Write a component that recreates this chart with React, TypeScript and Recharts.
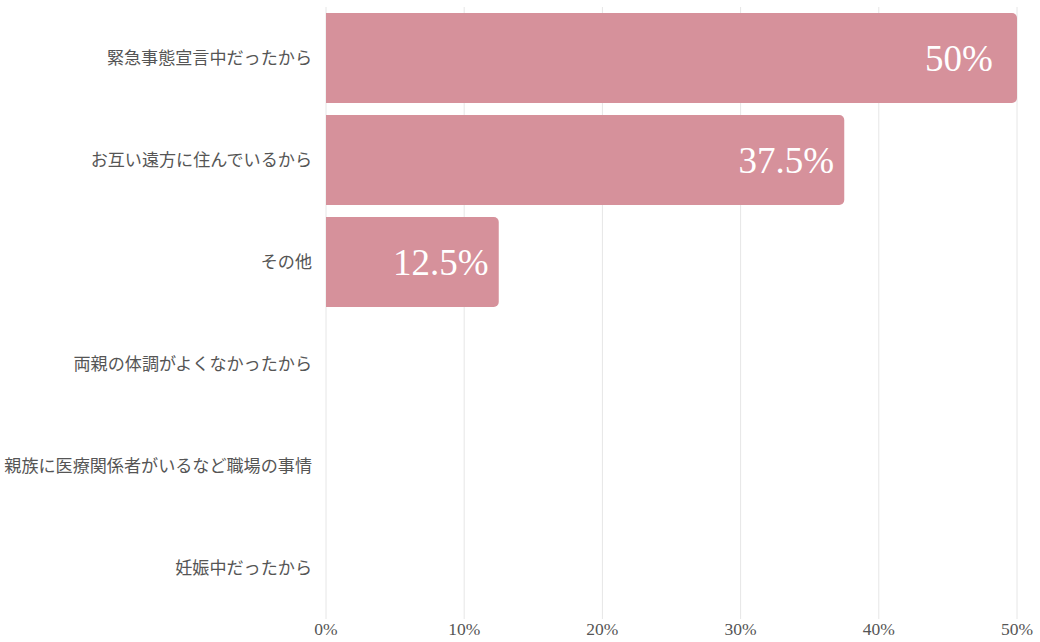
import React from 'react';
import { BarChart, Bar, CartesianGrid, XAxis, YAxis, LabelList } from 'recharts';

const categories = [
  '緊急事態宣言中だったから',
  'お互い遠方に住んでいるから',
  'その他',
  '両親の体調がよくなかったから',
  '親族に医療関係者がいるなど職場の事情',
  '妊娠中だったから'
];
const percentages = [50, 37.5, 12.5, 0, 0, 0];
const xTicks = [0, 10, 20, 30, 40, 50];

const data = categories.map((name, i) => ({ name, value: percentages[i] }));

// value label centred a fixed distance in from the bar's end
const renderValue = (props: any) => {
  const { x, y, width, height, value } = props;
  if (!value) return null;
  return (
    <text
      x={Number(x) + Number(width) - 58}
      y={Number(y) + Number(height) / 2}
      textAnchor="middle"
      dominantBaseline="central"
      fill="#fff"
      fontSize={37}
      fontFamily="Liberation Serif"
    >
      {`${value}%`}
    </text>
  );
};

const App: React.FC = () => {
  return (
    <div style={{ position: 'absolute', left: 0, top: 0 }}>
      <BarChart
        width={1040}
        height={642}
        layout="vertical"
        data={data}
        margin={{ top: 7, right: 23, left: 0, bottom: 0 }}
        barCategoryGap={6}
      >
        <CartesianGrid horizontal={false} stroke="#e6e6e6" />
        <XAxis
          type="number"
          domain={[0, 50]}
          ticks={xTicks}
          tickFormatter={(v) => `${v}%`}
          axisLine={false}
          tickLine={false}
          tickMargin={-2}
          height={23}
          tick={{ fill: '#555', fontSize: 17.5, fontFamily: 'Liberation Serif' }}
          interval={0}
        />
        <YAxis
          type="category"
          dataKey="name"
          width={326}
          axisLine={false}
          tickLine={false}
          tickMargin={8}
          tick={{ fill: '#555', fontSize: 17.1, fontFamily: '"Noto Sans CJK JP"' }}
        />
        <Bar dataKey="value" fill="#d6919b" radius={[0, 5, 5, 0]} isAnimationActive={false}>
          <LabelList dataKey="value" content={renderValue} />
        </Bar>
      </BarChart>
    </div>
  );
};

export default App;
